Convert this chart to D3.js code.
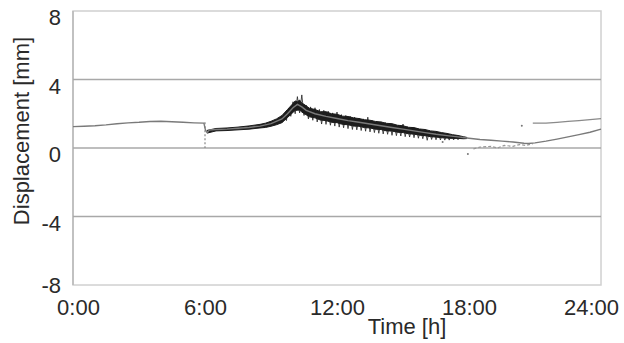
<!DOCTYPE html>
<html><head><meta charset="utf-8">
<script src="https://cdn.jsdelivr.net/npm/d3@7"></script>
<style>body{margin:0;background:#fff}svg{display:block}</style>
</head><body><svg id="c" width="624" height="343"></svg>
<script>
// ---- data ----
const xTickValues = [0, 6, 12, 18, 24];
const xTickLabels = ["0:00", "6:00", "12:00", "18:00", "24:00"];
const yTickValues = [-8, -4, 0, 4, 8];
const yTickLabels = ["-8", "-4", "0", "4", "8"];
const gridValues = [-4, 0, 4];

// main (grey) displacement trace, hours / mm
const mainTime = [0,0.5,1,1.5,2,2.5,3,3.5,4,4.5,5,5.5,5.95,6.02,6.1,6.2,6.5,7,7.5,8,8.5,9,9.5,9.75,10,10.2,10.4,10.6,11,11.5,12,12.5,13,13.5,14,14.5,15,15.5,16,16.5,17,17.5,18,18.5,19,19.5,20,20.5,20.7,21,21.5,22,22.5,23,23.5,24];
const mainVal  = [1.25,1.27,1.3,1.35,1.42,1.47,1.5,1.55,1.56,1.53,1.5,1.47,1.45,1.05,0.9,1.05,1.08,1.1,1.15,1.2,1.28,1.42,1.7,2.0,2.35,2.55,2.4,2.2,2.0,1.85,1.72,1.6,1.5,1.4,1.3,1.2,1.1,1.0,0.9,0.8,0.72,0.65,0.57,0.5,0.45,0.4,0.35,0.28,0.26,0.3,0.4,0.52,0.65,0.78,0.92,1.1];

// envelope of the noisy raw signal
const bandTime  = [6.1,6.5,7,7.5,8,8.5,8.75,9,9.25,9.5,9.75,10,10.1,10.2,10.3,10.4,10.5,10.75,11,11.25,11.5,11.75,12,12.25,12.5,12.75,13,13.25,13.5,13.75,14,14.25,14.5,14.75,15,15.25,15.5,15.75,16,16.25,16.5,16.75,17,17.25,17.5,17.75,17.9];
const bandUpper = [1.03,1.14,1.17,1.22,1.29,1.38,1.45,1.56,1.7,1.9,2.25,2.6,2.75,2.7,2.8,2.62,2.55,2.32,2.25,2.12,2.12,2.0,1.97,1.86,1.84,1.76,1.72,1.65,1.62,1.55,1.52,1.44,1.42,1.33,1.3,1.21,1.19,1.11,1.08,1.0,0.97,0.9,0.85,0.78,0.73,0.66,0.62];
const bandLower = [0.87,1.0,1.02,1.06,1.1,1.17,1.2,1.27,1.36,1.48,1.78,2.08,2.2,2.2,2.22,2.1,2.02,1.82,1.76,1.63,1.6,1.5,1.48,1.38,1.36,1.28,1.27,1.19,1.17,1.1,1.08,1.0,0.99,0.92,0.9,0.83,0.81,0.75,0.72,0.66,0.64,0.6,0.58,0.56,0.56,0.54,0.55];

// raw noisy samples (spiky trace)
const rawTime = [9.6,9.7,9.8,9.9,10.0,10.1,10.2,10.3,10.4,10.5,10.6,10.7,10.8,10.9,11.0,11.1,11.2,11.3,11.4,11.5,11.6,11.7,11.8,11.9,12.0,12.1,12.2,12.3,12.4,12.5,12.6,12.7,12.8,12.9,13.0,13.1,13.2,13.3,13.4,13.5,13.6,13.7,13.8,13.9,14.0,14.1,14.2,14.3,14.4,14.5,14.6,14.7,14.8,14.9,15.0,15.1,15.2,15.3,15.4,15.5,15.6,15.7,15.8,15.9,16.0,16.1,16.2,16.3,16.4,16.5,16.6,16.7,16.8,16.9,17.0,17.1,17.2,17.3,17.4,17.5,17.6];
const rawVal  = [2.0,1.6,2.3,1.85,2.7,2.0,3.0,2.05,3.1,1.9,2.5,1.7,2.4,1.62,2.35,1.52,2.25,1.4,2.2,1.38,2.15,1.33,2.05,1.28,2.1,1.22,1.95,1.18,1.9,1.13,1.85,1.08,1.8,1.06,1.75,1.02,1.7,0.98,1.8,0.94,1.6,0.9,1.57,0.86,1.53,0.82,1.48,0.8,1.44,0.74,1.38,0.72,1.34,0.7,1.4,0.66,1.24,0.64,1.21,0.6,1.16,0.57,1.11,0.54,1.06,0.45,1.01,0.5,0.97,0.48,0.92,0.47,0.87,0.46,0.83,0.46,0.78,0.47,0.73,0.48,0.68];

// second sensor segment (upper, 21h-24h)
const upperTime = [20.9,21.5,22,22.5,23,23.5,24];
const upperVal  = [1.45,1.45,1.5,1.55,1.6,1.66,1.72];

// scattered low segment 18h-21h
const lowTime = [18.2,18.5,19,19.3,19.6,20,20.3,20.6,20.9];
const lowVal  = [-0.05,0.05,0.1,0.0,0.15,0.1,0.2,0.15,0.25];

// dropout at 6:00
const dropTime = [6.0, 6.0];
const dropVal  = [1.5, 0.0];

// stray points
const strayTime = [17.95, 20.4, 16.8];
const strayVal  = [-0.35, 1.3, 0.35];

// ---- drawing ----
const svg = d3.select("#c");
const L = 73, R = 601, T = 11, B = 285;
const x = d3.scaleLinear().domain([0, 24]).range([L, R]);
const y = d3.scaleLinear().domain([-8, 8]).range([B, T]);
const font = "'Liberation Sans', Arial, Helvetica, sans-serif";
const txt = "#2a2a2a";

// frame
svg.append("rect").attr("x", L).attr("y", T).attr("width", R - L).attr("height", B - T)
  .attr("fill", "none").attr("stroke", "#d0d0d0").attr("stroke-width", 1.5);
svg.append("line").attr("x1", L).attr("x2", L).attr("y1", T).attr("y2", B)
  .attr("stroke", "#b8b8b8").attr("stroke-width", 1.5);

// gridlines
svg.selectAll("line.grid").data(gridValues).enter().append("line")
  .attr("class", "grid")
  .attr("x1", L).attr("x2", R)
  .attr("y1", d => y(d)).attr("y2", d => y(d))
  .attr("stroke", "#a8a8a8").attr("stroke-width", 1.4);

// x axis
const xAxis = svg.append("g").attr("transform", `translate(0,${B})`)
  .call(d3.axisBottom(x).tickValues(xTickValues).tickFormat((d, i) => xTickLabels[i]).tickSize(0).tickPadding(0));
xAxis.select(".domain").remove();
xAxis.selectAll("text")
  .attr("font-family", font).attr("font-size", 22).attr("fill", txt)
  .attr("y", 30).attr("dy", 0)
  .attr("dx", (d, i) => i === 0 ? 5 : (i === xTickValues.length - 1 ? -10 : 0));

// y axis
const yAxis = svg.append("g").attr("transform", `translate(${L},0)`)
  .call(d3.axisLeft(y).tickValues(yTickValues).tickFormat((d, i) => yTickLabels[i]).tickSize(0).tickPadding(12));
yAxis.select(".domain").remove();
yAxis.selectAll("text")
  .attr("font-family", font).attr("font-size", 22).attr("fill", txt)
  .attr("dy", (d) => d === -8 ? "0.35em" : "0.62em");

// axis titles
svg.append("text").attr("x", 407).attr("y", 334).attr("text-anchor", "middle")
  .attr("font-family", font).attr("font-size", 22).attr("fill", txt).text("Time [h]");
svg.append("text").attr("transform", "translate(29,131) rotate(-90)").attr("text-anchor", "middle")
  .attr("font-family", font).attr("font-size", 22).attr("fill", txt).text("Displacement [mm]");

// dropout dashed vertical
svg.append("path").datum(dropTime.map((t, i) => [t, dropVal[i]]))
  .attr("d", d3.line().x(d => x(d[0])).y(d => y(d[1])))
  .attr("fill", "none").attr("stroke", "#888").attr("stroke-width", 1.2).attr("stroke-dasharray", "2,2");

// low scattered segment
svg.append("path").datum(lowTime.map((t, i) => [t, lowVal[i]]))
  .attr("d", d3.line().x(d => x(d[0])).y(d => y(d[1])))
  .attr("fill", "none").attr("stroke", "#999").attr("stroke-width", 1.2).attr("stroke-dasharray", "3,2");

// raw spiky trace
svg.append("path").datum(rawTime.map((t, i) => [t, rawVal[i]]))
  .attr("d", d3.line().x(d => x(d[0])).y(d => y(d[1])))
  .attr("fill", "none").attr("stroke", "#222").attr("stroke-width", 0.8);

// band
const bandData = bandTime.map((t, i) => [t, bandLower[i], bandUpper[i]]);
svg.append("path").datum(bandData)
  .attr("d", d3.area().x(d => x(d[0])).y0(d => y(d[1])).y1(d => y(d[2])))
  .attr("fill", "#1c1c1c").attr("stroke", "#1c1c1c").attr("stroke-width", 1);

// main line
svg.append("path").datum(mainTime.map((t, i) => [t, mainVal[i]]))
  .attr("d", d3.line().x(d => x(d[0])).y(d => y(d[1])))
  .attr("fill", "none").attr("stroke", "#7a7a7a").attr("stroke-width", 1.4);

// upper segment
svg.append("path").datum(upperTime.map((t, i) => [t, upperVal[i]]))
  .attr("d", d3.line().x(d => x(d[0])).y(d => y(d[1])))
  .attr("fill", "none").attr("stroke", "#8a8a8a").attr("stroke-width", 1.3);

// stray dots
svg.selectAll("circle.stray").data(strayTime.map((t, i) => [t, strayVal[i]])).enter()
  .append("circle").attr("class", "stray")
  .attr("cx", d => x(d[0])).attr("cy", d => y(d[1])).attr("r", 1).attr("fill", "#777");
</script></body></html>
